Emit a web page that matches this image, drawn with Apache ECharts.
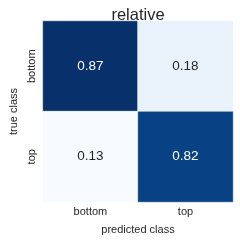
<!DOCTYPE html>
<html><head><meta charset="utf-8">
<script src="https://cdn.jsdelivr.net/npm/echarts@6/dist/echarts.min.js"></script>
<style>html,body{margin:0;padding:0;background:#fff}#c{width:240px;height:240px}</style>
</head><body><div id="c"></div>
<script>
var xCategories = ['bottom', 'top'];
var yCategories = ['bottom', 'top'];
var values = [
  [0.87, 0.18],
  [0.13, 0.82]
];
var title = 'relative';
var xName = 'predicted class';
var yName = 'true class';

var data = [];
for (var r = 0; r < yCategories.length; r++) {
  for (var c = 0; c < xCategories.length; c++) {
    var v = values[r][c];
    data.push({value: [c, r, v], label: {color: v > 0.5 ? '#ffffff' : '#262626'}});
  }
}
var FONT = 'Liberation Sans';
var chart = echarts.init(document.getElementById('c'), null, {renderer: 'canvas'});
chart.setOption({
  animation: false,
  textStyle: {fontFamily: FONT},
  title: {text: title, left: 133, textAlign: 'center', top: 2,
    textStyle: {fontFamily: FONT, fontSize: 16.5, fontWeight: 'normal', color: '#262626'}},
  grid: {left: 33, top: 21, width: 200, height: 185},
  xAxis: {type: 'category', data: xCategories, position: 'bottom',
    axisLine: {show: false}, axisTick: {show: false}, splitLine: {show: false},
    axisLabel: {fontSize: 11, color: '#262626', margin: 4, fontFamily: FONT},
    name: xName, nameLocation: 'middle', nameGap: 22,
    nameTextStyle: {fontSize: 11, color: '#262626', fontFamily: FONT}},
  yAxis: {type: 'category', data: yCategories, inverse: true,
    axisLine: {show: false}, axisTick: {show: false}, splitLine: {show: false},
    axisLabel: {fontSize: 11, color: '#262626', margin: 5, rotate: 90, fontFamily: FONT, verticalAlign: 'bottom'},
    name: yName, nameLocation: 'middle', nameGap: 21, nameRotate: 90,
    nameTextStyle: {fontSize: 11, color: '#262626', fontFamily: FONT}},
  visualMap: {show: false, min: 0.13, max: 0.87, dimension: 2,
    inRange: {color: ['#f7fbff','#deebf7','#c6dbef','#9ecae1','#6baed6','#4292c6','#2171b5','#08519c','#08306b']}},
  series: [{
    type: 'heatmap', data: data,
    itemStyle: {borderColor: '#ffffff', borderWidth: 0.5},
    label: {show: true, fontSize: 13.5, fontFamily: FONT,
      formatter: function (p) { return p.value[2].toFixed(2); }}
  }]
});
</script></body></html>
